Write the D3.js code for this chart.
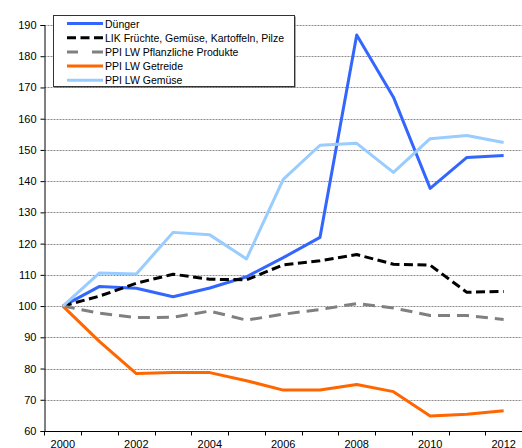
<!DOCTYPE html>
<html>
<head>
<meta charset="utf-8">
<script src="https://cdn.jsdelivr.net/npm/d3@7"></script>
<style>
  html, body { margin: 0; padding: 0; background: #fff; }
  svg { display: block; font-family: "Liberation Sans", Arial, sans-serif; }
</style>
</head>
<body>
<svg id="chart" width="522" height="448"></svg>
<script>
// Price indices, 2000 = 100
const years = [2000, 2001, 2002, 2003, 2004, 2005, 2006, 2007, 2008, 2009, 2010, 2011, 2012];
const duenger   = [100, 106.3, 105.7, 103, 105.8, 109.4, 115.5, 122, 186.8, 166.9, 137.7, 147.6, 148.2];
const likObst   = [100, 103.2, 107.3, 110.2, 108.6, 108.4, 113.2, 114.5, 116.5, 113.4, 113.1, 104.4, 104.7];
const ppiPflanz = [100, 97.7, 96.3, 96.4, 98.4, 95.5, 97.4, 98.9, 100.8, 99.4, 97, 97, 95.7];
const ppiGetr   = [100, 88.6, 78.4, 78.7, 78.7, 76.1, 73.1, 73.1, 74.9, 72.6, 64.8, 65.4, 66.5];
const ppiGemuese= [100, 110.6, 110.3, 123.6, 122.8, 115.1, 140.6, 151.5, 152.1, 142.8, 153.6, 154.6, 152.4];
const seriesNames = ["Dünger", "LIK Früchte, Gemüse, Kartoffeln, Pilze", "PPI LW Pflanzliche Produkte", "PPI LW Getreide", "PPI LW Gemüse"];
const yTicks = [60, 70, 80, 90, 100, 110, 120, 130, 140, 150, 160, 170, 180, 190];
const xLabels = [2000, 2002, 2004, 2006, 2008, 2010, 2012];

const series = [
  { name: seriesNames[0], values: duenger,    color: "#3366ff", dash: null },
  { name: seriesNames[1], values: likObst,    color: "#000000", dash: "9,4.5" },
  { name: seriesNames[2], values: ppiPflanz,  color: "#808080", dash: "12,7" },
  { name: seriesNames[3], values: ppiGetr,    color: "#ff6600", dash: null },
  { name: seriesNames[4], values: ppiGemuese, color: "#99ccff", dash: null }
];

const svg = d3.select("#chart");
const plotLeft = 44.5, plotRight = 522, plotTop = 25, plotBottom = 431;

const x = d3.scaleBand().domain(years).range([plotLeft, plotRight]);
const y = d3.scaleLinear().domain([60, 190]).range([plotBottom, plotTop]);

// horizontal gridlines
svg.append("g").selectAll("line").data(yTicks.filter(t => t > 60)).join("line")
  .attr("x1", plotLeft).attr("x2", plotRight)
  .attr("y1", d => Math.round(y(d)) + 0.5).attr("y2", d => Math.round(y(d)) + 0.5)
  .attr("stroke", "#8c8c8c").attr("stroke-width", 1).attr("stroke-dasharray", "2,1");

// y axis
const yAxis = svg.append("g").attr("transform", `translate(${plotLeft},0)`)
  .call(d3.axisLeft(y).tickValues(yTicks).tickSize(4).tickPadding(4));
yAxis.select(".domain").attr("stroke", "#000");
yAxis.selectAll(".tick line").attr("stroke", "#000");
yAxis.selectAll(".tick text").attr("font-size", 11).attr("fill", "#000")
  .attr("font-family", "Liberation Sans, Arial, sans-serif");

// x axis: ticks at band boundaries, labels every second year at band centre
const xg = svg.append("g").attr("transform", `translate(0,${plotBottom + 0.5})`);
xg.append("line").attr("x1", plotLeft).attr("x2", plotRight).attr("stroke", "#000");
const bounds = years.map(d => x(d)).concat([plotRight - 0.5]);
xg.selectAll("line.tk").data(bounds).join("line").attr("class", "tk")
  .attr("x1", d => Math.round(d) + 0.5).attr("x2", d => Math.round(d) + 0.5)
  .attr("y1", 0).attr("y2", 4).attr("stroke", "#000");
xg.selectAll("text").data(xLabels).join("text")
  .attr("x", d => x(d) + x.bandwidth() / 2).attr("y", 16)
  .attr("text-anchor", "middle").attr("font-size", 11).attr("fill", "#000")
  .text(d => d);

// lines
const line = d3.line().x((d, i) => x(years[i]) + x.bandwidth() / 2).y(d => y(d));
svg.append("g").selectAll("path").data(series).join("path")
  .attr("d", d => line(d.values))
  .attr("fill", "none").attr("stroke", d => d.color).attr("stroke-width", 3)
  .attr("stroke-dasharray", d => d.dash).attr("stroke-linejoin", "round");

// legend
const lg = svg.append("g").attr("transform", "translate(53,15)");
lg.append("rect").attr("x", 1.5).attr("y", 1.5).attr("width", 241).attr("height", 71).attr("fill", "#555");
lg.append("rect").attr("x", 0.5).attr("y", 0.5).attr("width", 241).attr("height", 71)
  .attr("fill", "#fff").attr("stroke", "#333").attr("stroke-width", 1);
const rows = lg.selectAll("g.row").data(series).join("g").attr("class", "row")
  .attr("transform", (d, i) => `translate(0,${8.5 + i * 14.2})`);
rows.append("line").attr("x1", 14).attr("x2", 50).attr("y1", 0).attr("y2", 0)
  .attr("stroke", d => d.color).attr("stroke-width", 3)
  .attr("stroke-dasharray", d => d.dash === "12,7" ? "11,14" : d.dash);
rows.append("text").attr("x", 52).attr("y", 4).attr("font-size", 10.5).attr("fill", "#000")
  .text(d => d.name);
</script>
</body>
</html>
